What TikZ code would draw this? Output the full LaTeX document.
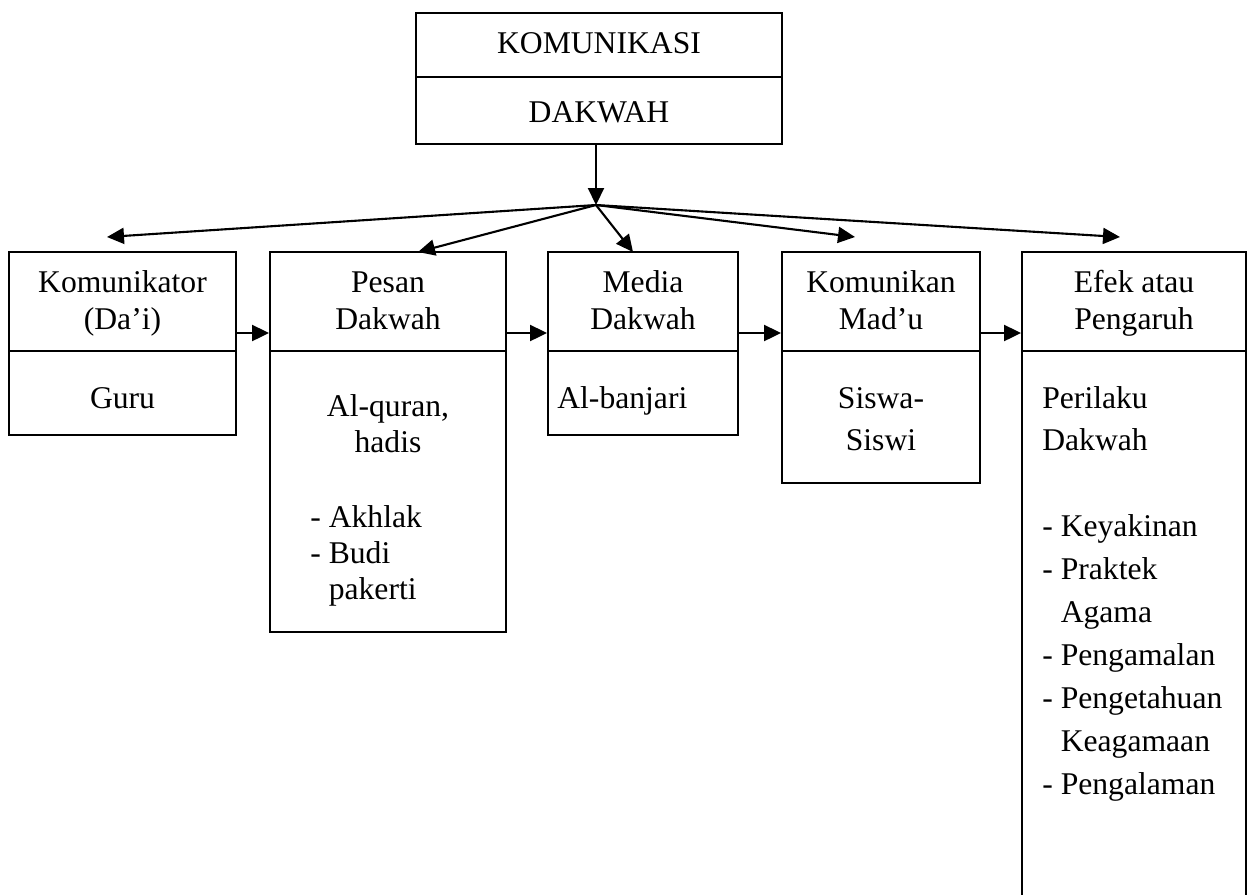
\documentclass[tikz,border=0pt]{standalone}
\usepackage{fontspec}
\setmainfont{Liberation Serif}
\usetikzlibrary{arrows.meta}

\begin{document}
\begin{tikzpicture}[x=0.02cm, y=-0.02cm,
        boxnode/.style={rectangle, draw=black, line width=1.1pt, inner sep=0pt},
        textnode/.style={inner sep=0pt, font=\fontsize{18}{21}\selectfont},
        arrowline/.style={-{Triangle[length=0.34cm,width=0.32cm]}, line width=1.2pt}
        ]
            \useasboundingbox (0,0) rectangle (1251,894);

            % boxes
            \node[boxnode, minimum width=7.32cm, minimum height=2.62cm] (T) at (599,78.5) {};
            \node[boxnode, minimum width=4.54cm, minimum height=3.66cm] (A) at (122.5,343.5) {};
            \node[boxnode, minimum width=4.72cm, minimum height=7.6cm] (B) at (388,442) {};
            \node[boxnode, minimum width=3.8cm, minimum height=3.66cm] (C) at (643,343.5) {};
            \node[boxnode, minimum width=3.96cm, minimum height=4.62cm] (D) at (881,367.5) {};
            \node[boxnode, minimum width=4.48cm, minimum height=13.04cm] (E) at (1134,578) {};

            \coordinate (T0) at (0,77);
            \coordinate (R0) at (0,351);
            \draw[line width=1.1pt] (T.west |- T0) -- (T.east |- T0);
            \draw[line width=1.1pt] (A.west |- R0) -- (A.east |- R0);
            \draw[line width=1.1pt] (B.west |- R0) -- (B.east |- R0);
            \draw[line width=1.1pt] (C.west |- R0) -- (C.east |- R0);
            \draw[line width=1.1pt] (D.west |- R0) -- (D.east |- R0);
            \draw[line width=1.1pt] (E.west |- R0) -- (E.east |- R0);

            % texts
            \node[textnode, anchor=base] (T1) at (599,53) {KOMUNIKASI};
            \node[textnode, anchor=base] (T2) at (599,122) {DAKWAH};

            \node[textnode, anchor=base] (A1) at (122.5,292) {Komunikator};
            \node[textnode, anchor=base] (A2) at (122.5,329) {(Da’i)};
            \node[textnode, anchor=base] (A3) at (122.5,408) {Guru};

            \node[textnode, anchor=base] (B1) at (388,292) {Pesan};
            \node[textnode, anchor=base] (B2) at (388,329) {Dakwah};
            \node[textnode, anchor=base] (B3) at (388,416) {Al-quran,};
            \node[textnode, anchor=base] (B4) at (388,452) {hadis};
            \node[textnode, anchor=base west] (B5) at (310,527) {- Akhlak};
            \node[textnode, anchor=base west] (B6) at (310,563) {- Budi};
            \node[textnode, anchor=base west] (B7) at (310,599) {\phantom{- }pakerti};

            \node[textnode, anchor=base] (C1) at (643,292) {Media};
            \node[textnode, anchor=base] (C2) at (643,329) {Dakwah};
            \node[textnode, anchor=base west] (C3) at (557,408) {Al-banjari};

            \node[textnode, anchor=base] (D1) at (881,292) {Komunikan};
            \node[textnode, anchor=base] (D2) at (881,329) {Mad’u};
            \node[textnode, anchor=base] (D3) at (881,408) {Siswa-};
            \node[textnode, anchor=base] (D4) at (881,450) {Siswi};

            \node[textnode, anchor=base] (E1) at (1134,292) {Efek atau};
            \node[textnode, anchor=base] (E2) at (1134,329) {Pengaruh};
            \node[textnode, anchor=base west] (E3) at (1042,408) {Perilaku};
            \node[textnode, anchor=base west] (E4) at (1042,450) {Dakwah};
            \node[textnode, anchor=base west] (E5) at (1042,536) {- Keyakinan};
            \node[textnode, anchor=base west] (E6) at (1042,579) {- Praktek};
            \node[textnode, anchor=base west] (E7) at (1042,622) {\phantom{- }Agama};
            \node[textnode, anchor=base west] (E8) at (1042,665) {- Pengamalan};
            \node[textnode, anchor=base west] (E9) at (1042,708) {- Pengetahuan};
            \node[textnode, anchor=base west] (E10) at (1042,751) {\phantom{- }Keagamaan};
            \node[textnode, anchor=base west] (E11) at (1042,794) {- Pengalaman};

            % arrows
            \coordinate (H) at (596,205);
            \coordinate (HA) at (107,237);
            \coordinate (HB) at (418,252);
            \coordinate (HC) at (633,252);
            \coordinate (HD) at (855,237);
            \coordinate (HE) at (1120,237);
            \coordinate (R1) at (0,333);

            \draw[arrowline] (T.south -| H) -- (H);
            \draw[arrowline] (H) -- (HA);
            \draw[arrowline] (H) -- (HB);
            \draw[arrowline] (H) -- (HC);
            \draw[arrowline] (H) -- (HD);
            \draw[arrowline] (H) -- (HE);

            \draw[arrowline] (A.east |- R1) -- (B.west |- R1);
            \draw[arrowline] (B.east |- R1) -- (C.west |- R1);
            \draw[arrowline] (C.east |- R1) -- (D.west |- R1);
            \draw[arrowline] (D.east |- R1) -- (E.west |- R1);

        \end{tikzpicture}
\end{document}
